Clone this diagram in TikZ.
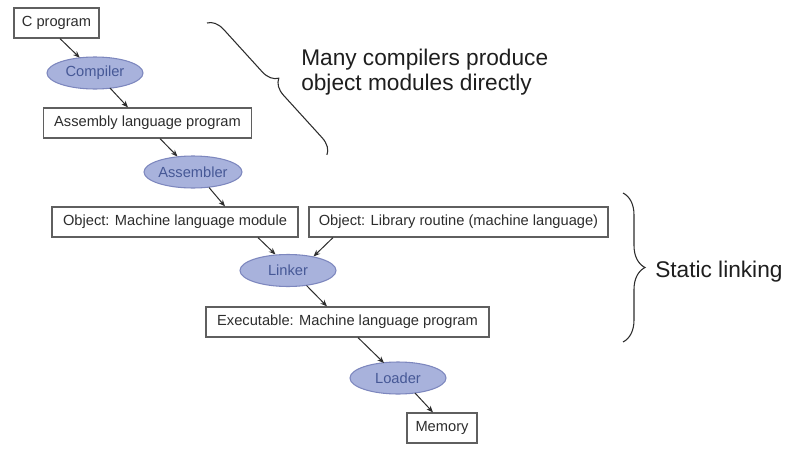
\documentclass[tikz,border=0pt]{standalone}
\usepackage{fontspec}
\setmainfont{Liberation Sans}
\usetikzlibrary{shapes.geometric,arrows.meta,calc,decorations.pathreplacing}
\definecolor{ellfill}{RGB}{168,178,220}
\definecolor{elldraw}{RGB}{125,135,190}
\definecolor{elltext}{RGB}{70,88,150}
\definecolor{boxdraw}{RGB}{95,95,95}
\definecolor{txt}{RGB}{45,45,45}
\definecolor{bigtxt}{RGB}{30,30,30}
\begin{document}
\begin{tikzpicture}[x=0.75pt,y=-0.75pt,
 box/.style={draw=boxdraw,line width=0.9pt,fill=white,text=txt,font=\fontsize{11}{13}\selectfont,minimum height=22.5pt,inner sep=0pt},
 proc/.style={ellipse,draw=elldraw,line width=0.8pt,fill=ellfill,text=elltext,font=\fontsize{11}{13}\selectfont,minimum width=72pt,minimum height=24pt,inner sep=0pt},
 arr/.style={draw=txt,line width=0.75pt,-{Stealth[length=5pt,width=4pt]}},
 brc/.style={draw=txt,line width=0.8pt,decorate,decoration={brace,amplitude=#1}},
 big/.style={font=\fontsize{17}{20}\selectfont,text=bigtxt,inner sep=0pt,anchor=base west}]
\useasboundingbox (0,0) rectangle (800,457);
\fill[white] (0,0) rectangle (800,457);

\node[box,minimum width=63.75pt] (cprog) at (56.5,23) {C program};
\node[proc] (compiler) at (95,73) {Compiler};
\node[box,minimum width=156pt] (asm) at (147.5,123) {Assembly language program};
\node[proc] (assembler) at (193,172) {Assembler};
\node[box,minimum width=184.5pt] (obj) at (175,222) {Object: Machine language module};
\node[box,minimum width=224.25pt] (lib) at (458.5,222) {Object: Library routine (machine language)};
\node[proc] (linker) at (288,270.5) {Linker};
\node[box,minimum width=212.25pt] (exec) at (347.5,322) {Executable: Machine language program};
\node[proc] (loader) at (398,378) {Loader};
\node[box,minimum width=52.5pt] (mem) at (442,428) {Memory};

\draw[arr] ($(cprog.south)+(3.5,0)$) -- ($(compiler.center)+(-15.3,-15.3)$);
\draw[arr] ($(compiler.center)+(15,15)$) -- ($(asm.north)+(-19.5,0)$);
\draw[arr] ($(asm.south)+(12.5,0)$) -- ($(assembler.center)+(-15.5,-15.5)$);
\draw[arr] ($(assembler.center)+(16,15.5)$) -- ($(obj.north)+(50,0)$);
\draw[arr] ($(obj.south)+(83,0)$) -- ($(linker.center)+(-12.5,-16)$);
\draw[arr] ($(lib.south)+(-125.5,0)$) -- ($(linker.center)+(25.5,-14)$);
\draw[arr] ($(linker.center)+(18.5,15)$) -- ($(exec.north)+(-20.5,0)$);
\draw[arr] ($(exec.south)+(10.5,0)$) -- ($(loader.center)+(-14,-15)$);
\draw[arr] ($(loader.center)+(17,15)$) -- ($(mem.north)+(-9,0)$);

\coordinate (b1s) at (207,23);
\coordinate (b1e) at (327,155);
\draw[brc=12pt] (b1s) -- (b1e);
\coordinate (b2s) at (623,193);
\coordinate (b2e) at (623,342);
\draw[brc=16.5pt] (b2s) -- (b2e);

\node[big] (many1) at (301,65) {Many compilers produce};
\node[big] (many2) at (301,90) {object modules directly};
\node[big] (static) at (655,277) {Static linking};
\end{tikzpicture}
\end{document}
